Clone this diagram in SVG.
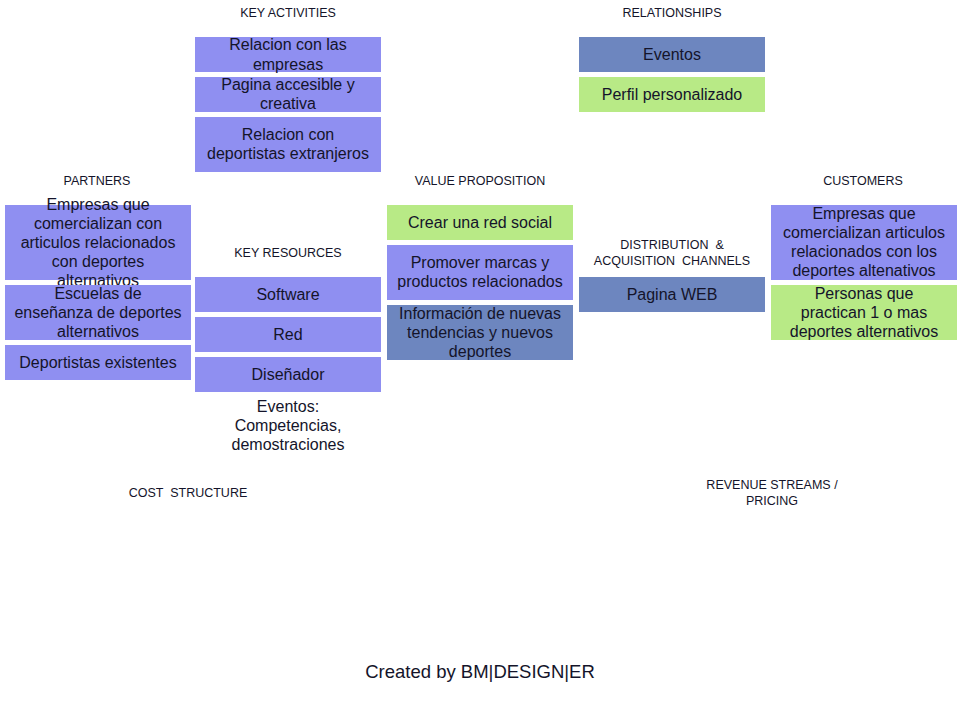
<svg xmlns="http://www.w3.org/2000/svg" width="960" height="720" viewBox="0 0 960 720">
<style>
  text { font-family: "Liberation Sans", Arial, sans-serif; fill: #14142a; text-anchor: middle; white-space: pre; }
  .h { font-size: 12.5px; }
  .t { font-size: 16px; }
  .f { font-size: 18.5px; }
  .p { fill: #8f8ff1; }
  .b { fill: #6d86bf; }
  .g { fill: #b8ea86; }
</style>
<rect width="960" height="720" fill="#ffffff"/>

<g id="headings">
  <text class="h" x="288" y="17">KEY ACTIVITIES</text>
  <text class="h" x="672" y="17">RELATIONSHIPS</text>
  <text class="h" x="97" y="185">PARTNERS</text>
  <text class="h" x="480" y="185">VALUE PROPOSITION</text>
  <text class="h" x="863" y="185">CUSTOMERS</text>
  <text class="h" x="288" y="257">KEY RESOURCES</text>
  <text class="h" x="672" y="249">DISTRIBUTION  &amp;</text>
  <text class="h" x="672" y="265">ACQUISITION  CHANNELS</text>
  <text class="h" x="188" y="497">COST  STRUCTURE</text>
  <text class="h" x="772" y="489">REVENUE STREAMS /</text>
  <text class="h" x="772" y="505">PRICING</text>
</g>

<g id="connectors"></g>

<g id="ka1"><rect class="p" x="195" y="37" width="186" height="35"/>
  <text class="t" x="288" y="50">Relacion con las</text><text class="t" x="288" y="70">empresas</text></g>
<g id="ka2"><rect class="p" x="195" y="77" width="186" height="35"/>
  <text class="t" x="288" y="90">Pagina accesible y</text><text class="t" x="288" y="109">creativa</text></g>
<g id="ka3"><rect class="p" x="195" y="117" width="186" height="55"/>
  <text class="t" x="288" y="140">Relacion con</text><text class="t" x="288" y="159">deportistas extranjeros</text></g>

<g id="rel1"><rect class="b" x="579" y="37" width="186" height="35"/>
  <text class="t" x="672" y="60">Eventos</text></g>
<g id="rel2"><rect class="g" x="579" y="77" width="186" height="35"/>
  <text class="t" x="672" y="100">Perfil personalizado</text></g>

<g id="pa1"><rect class="p" x="5" y="205" width="186" height="75"/>
  <text class="t" x="98" y="210">Empresas que</text><text class="t" x="98" y="229">comercializan con</text><text class="t" x="98" y="248">articulos relacionados</text><text class="t" x="98" y="267">con deportes</text><text class="t" x="98" y="286">alternativos</text></g>
<g id="pa2"><rect class="p" x="5" y="285" width="186" height="55"/>
  <text class="t" x="98" y="299">Escuelas de</text><text class="t" x="98" y="318">enseñanza de deportes</text><text class="t" x="98" y="337">alternativos</text></g>
<g id="pa3"><rect class="p" x="5" y="345" width="186" height="35"/>
  <text class="t" x="98" y="368">Deportistas existentes</text></g>

<g id="kr1"><rect class="p" x="195" y="277" width="186" height="35"/>
  <text class="t" x="288" y="300">Software</text></g>
<g id="kr2"><rect class="p" x="195" y="317" width="186" height="35"/>
  <text class="t" x="288" y="340">Red</text></g>
<g id="kr3"><rect class="p" x="195" y="357" width="186" height="35"/>
  <text class="t" x="288" y="380">Diseñador</text></g>
<g id="kr4">
  <text class="t" x="288" y="412">Eventos:</text><text class="t" x="288" y="431">Competencias,</text><text class="t" x="288" y="450">demostraciones</text></g>

<g id="vp1"><rect class="g" x="387" y="205" width="186" height="35"/>
  <text class="t" x="480" y="228">Crear una red social</text></g>
<g id="vp2"><rect class="p" x="387" y="245" width="186" height="55"/>
  <text class="t" x="480" y="268">Promover marcas y</text><text class="t" x="480" y="287">productos relacionados</text></g>
<g id="vp3"><rect class="b" x="387" y="305" width="186" height="55"/>
  <text class="t" x="480" y="319">Información de nuevas</text><text class="t" x="480" y="338">tendencias y nuevos</text><text class="t" x="480" y="357">deportes</text></g>

<g id="ch1"><rect class="b" x="579" y="277" width="186" height="35"/>
  <text class="t" x="672" y="300">Pagina WEB</text></g>

<g id="cu1"><rect class="p" x="771" y="205" width="186" height="75"/>
  <text class="t" x="864" y="219">Empresas que</text><text class="t" x="864" y="238">comercializan articulos</text><text class="t" x="864" y="257">relacionados con los</text><text class="t" x="864" y="276">deportes altenativos</text></g>
<g id="cu2"><rect class="g" x="771" y="285" width="186" height="55"/>
  <text class="t" x="864" y="299">Personas que</text><text class="t" x="864" y="318">practican 1 o mas</text><text class="t" x="864" y="337">deportes alternativos</text></g>

<g id="footer"><text class="f" x="480" y="678">Created by BM|DESIGN|ER</text></g>
</svg>
